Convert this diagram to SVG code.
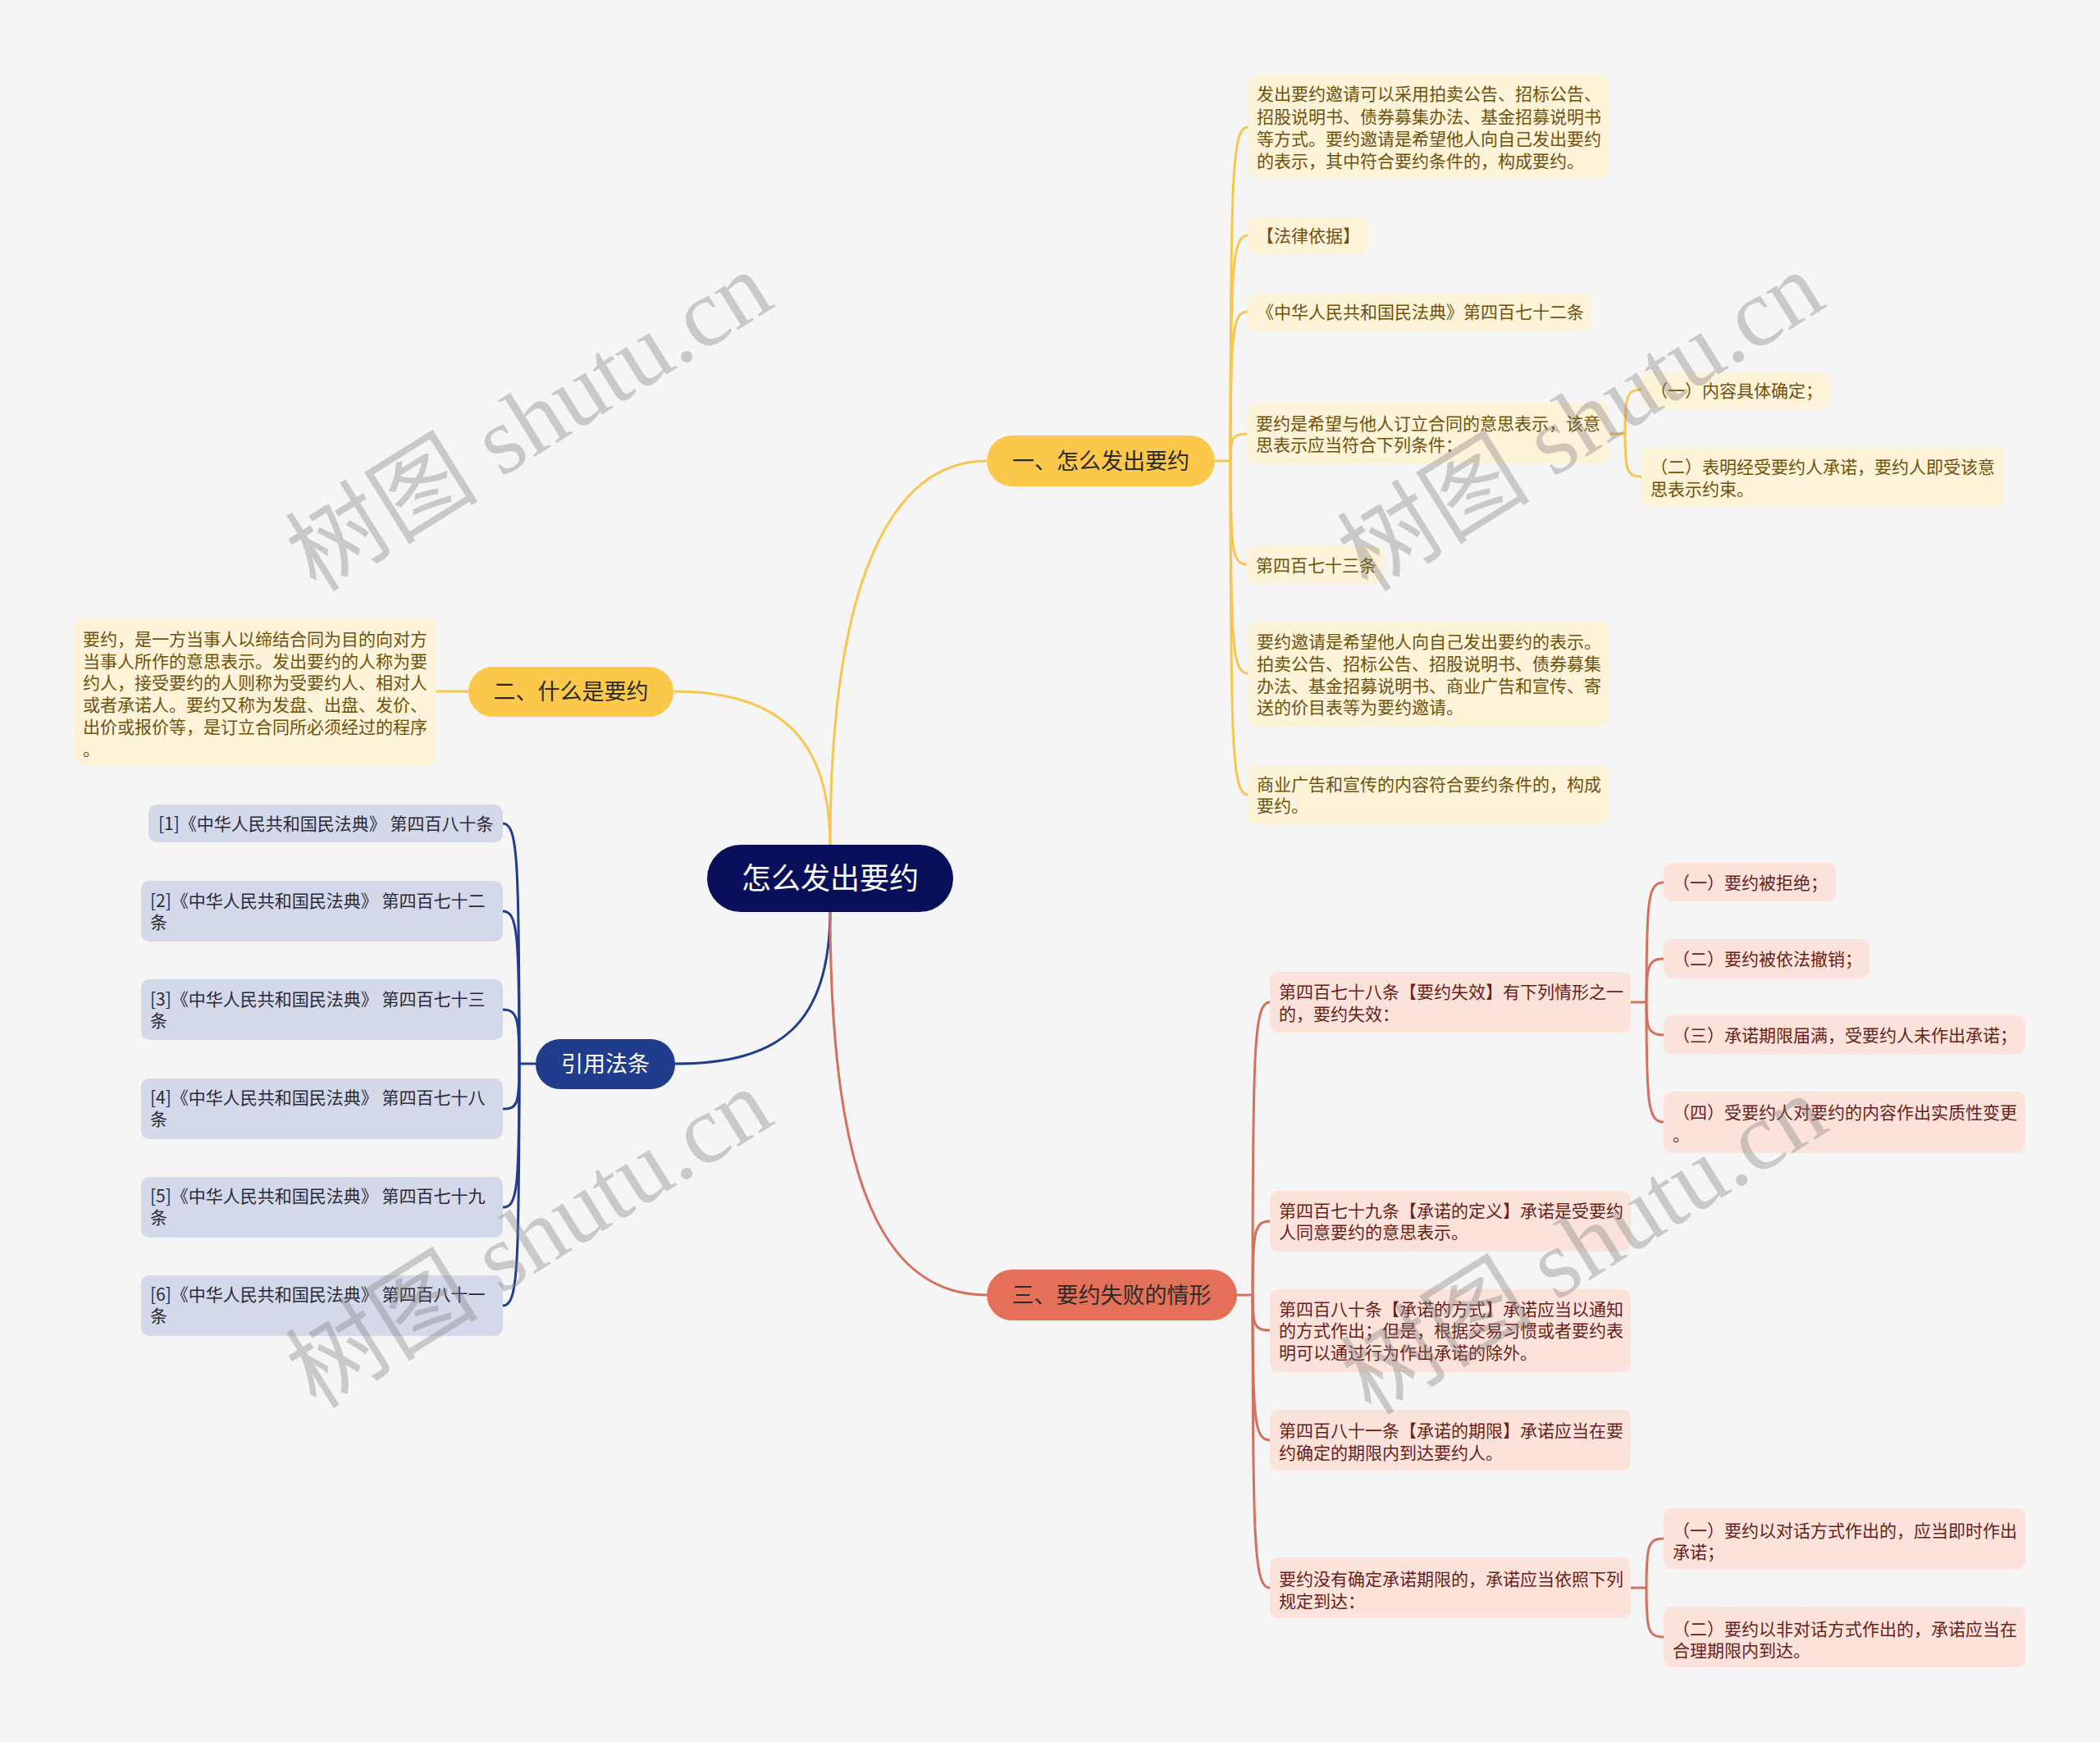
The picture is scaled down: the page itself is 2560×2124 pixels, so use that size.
<svg xmlns="http://www.w3.org/2000/svg" width="2560" height="2124" viewBox="0 0 2560 2124">
<style>
text{font-family:"Noto Sans CJK SC","Noto Sans",sans-serif;}
.ly{fill:#fdf3d9;}
.lr{fill:#fbe3dc;}
.lb{fill:#d3d9e8;}
.ty{fill:#6e520c;font-size:21px;}
.tr{fill:#6a1e18;font-size:21px;}
.tb{fill:#2a2a3a;font-size:21px;}
.cy{fill:none;stroke:#f7c64f;stroke-width:3;}
.cb{fill:none;stroke:#1f3d8c;stroke-width:3;}
.cr{fill:none;stroke:#d4705e;stroke-width:3;}
.br{font-size:27px;text-anchor:middle;}
.wm{font-family:"Liberation Serif","Noto Sans CJK SC",serif;font-size:118px;fill:#808080;fill-opacity:0.38;text-anchor:middle;}
</style>
<rect x="0" y="0" width="2560" height="2124" fill="#f5f5f5"/>

<g id="connectors">
  <path class="cy" d="M1012,1032 C1012,700 1090,562 1203,562"/>
  <path class="cy" d="M1012,1032 C1012,900 950,843 821,843"/>
  <path class="cb" d="M1012,1110 C1012,1250 950,1297 823,1297"/>
  <path class="cr" d="M1012,1110 C1012,1450 1080,1579 1203,1579"/>
  <path class="cy" d="M1481,562 H1500"/>
  <path class="cy" d="M1500,562 C1500,216 1502,155 1521,155"/>
  <path class="cy" d="M1500,562 C1500,328 1502,287 1521,287"/>
  <path class="cy" d="M1500,562 C1500,407 1502,380 1521,380"/>
  <path class="cy" d="M1500,562 C1500,534 1502,529 1520,529"/>
  <path class="cy" d="M1500,562 C1500,669 1502,688 1520,688"/>
  <path class="cy" d="M1500,562 C1500,782 1502,821 1521,821"/>
  <path class="cy" d="M1500,562 C1500,907 1502,969 1521,969"/>
  <path class="cy" d="M1962,529 H1981"/>
  <path class="cy" d="M1981,529 C1981,483 1983,475 2001,475"/>
  <path class="cy" d="M1981,529 C1981,573 1983,581 2001,581"/>
  <path class="cy" d="M532,843 H571"/>
  <path class="cb" d="M653,1297 H633"/>
  <path class="cb" d="M633,1297 C633,1048 631,1004 613,1004"/>
  <path class="cb" d="M633,1297 C633,1139 631,1111 613,1111"/>
  <path class="cb" d="M633,1297 C633,1243 631,1231 613,1231"/>
  <path class="cb" d="M633,1297 C633,1346 631,1352 613,1352"/>
  <path class="cb" d="M633,1297 C633,1448 631,1472 613,1472"/>
  <path class="cb" d="M633,1297 C633,1551 631,1592 613,1592"/>
  <path class="cr" d="M1508,1579 H1527"/>
  <path class="cr" d="M1527,1579 C1527,1273 1529,1222 1548,1222"/>
  <path class="cr" d="M1527,1579 C1527,1502 1529,1489 1548,1489"/>
  <path class="cr" d="M1527,1579 C1527,1616 1529,1622 1548,1622"/>
  <path class="cr" d="M1527,1579 C1527,1730 1529,1756 1548,1756"/>
  <path class="cr" d="M1527,1579 C1527,1882 1529,1936 1548,1936"/>
  <path class="cr" d="M1988,1222 H2007"/>
  <path class="cr" d="M2007,1222 C2007,1096 2009,1076 2028,1076"/>
  <path class="cr" d="M2007,1222 C2007,1179 2009,1169 2028,1169"/>
  <path class="cr" d="M2007,1222 C2007,1253 2009,1262 2028,1262"/>
  <path class="cr" d="M2007,1222 C2007,1346 2009,1368 2028,1368"/>
  <path class="cr" d="M1988,1936 H2007"/>
  <path class="cr" d="M2007,1936 C2007,1885 2009,1876 2028,1876"/>
  <path class="cr" d="M2007,1936 C2007,1987 2009,1996 2028,1996"/>
</g>

<g id="root">
  <rect x="862" y="1030" width="300" height="82" rx="41" fill="#0a0f5c"/>
  <text x="1012" y="1084" font-size="36" fill="#ffffff" text-anchor="middle">怎么发出要约</text>
</g>

<g id="branch-1">
  <rect x="1203" y="531" width="278" height="62" rx="31" fill="#fcc84c"/>
  <text class="br" x="1342" y="572" fill="#2b2b2b">一、怎么发出要约</text>
</g>
<g id="branch-2">
  <rect x="571" y="813" width="250" height="61" rx="30" fill="#fcc84c"/>
  <text class="br" x="696" y="853" fill="#2b2b2b">二、什么是要约</text>
</g>
<g id="branch-cite">
  <rect x="653" y="1267" width="170" height="61" rx="30" fill="#1f3d8c"/>
  <text class="br" x="738" y="1307" fill="#ffffff">引用法条</text>
</g>
<g id="branch-3">
  <rect x="1203" y="1548" width="305" height="62" rx="31" fill="#e5705a"/>
  <text class="br" x="1355" y="1589" fill="#2b2b2b">三、要约失败的情形</text>
</g>

<g id="leaf-1-1">
  <rect class="ly" x="1521" y="92" width="441" height="125" rx="10"/>
  <text class="ty"><tspan x="1532" y="122">发出要约邀请可以采用拍卖公告、招标公告、</tspan><tspan x="1532" y="150">招股说明书、债券募集办法、基金招募说明书</tspan><tspan x="1532" y="177">等方式。要约邀请是希望他人向自己发出要约</tspan><tspan x="1532" y="204">的表示，其中符合要约条件的，构成要约。</tspan></text>
</g>
<g id="leaf-1-2">
  <rect class="ly" x="1521" y="265" width="146" height="45" rx="10"/>
  <text class="ty" x="1532" y="295">【法律依据】</text>
</g>
<g id="leaf-1-3">
  <rect class="ly" x="1521" y="358" width="419" height="45" rx="10"/>
  <text class="ty" x="1532" y="388">《中华人民共和国民法典》第四百七十二条</text>
</g>
<g id="leaf-1-4">
  <rect class="ly" x="1520" y="492" width="442" height="73" rx="10"/>
  <text class="ty"><tspan x="1531" y="524">要约是希望与他人订立合同的意思表示，该意</tspan><tspan x="1531" y="550">思表示应当符合下列条件：</tspan></text>
</g>
<g id="leaf-1-4-1">
  <rect class="ly" x="2001" y="453" width="230" height="45" rx="10"/>
  <text class="ty" x="2012" y="484">（一）内容具体确定；</text>
</g>
<g id="leaf-1-4-2">
  <rect class="ly" x="2001" y="545" width="442" height="73" rx="10"/>
  <text class="ty"><tspan x="2012" y="577">（二）表明经受要约人承诺，要约人即受该意</tspan><tspan x="2012" y="604">思表示约束。</tspan></text>
</g>
<g id="leaf-1-5">
  <rect class="ly" x="1520" y="665" width="168" height="47" rx="10"/>
  <text class="ty" x="1531" y="697">第四百七十三条</text>
</g>
<g id="leaf-1-6">
  <rect class="ly" x="1521" y="758" width="441" height="127" rx="10"/>
  <text class="ty"><tspan x="1532" y="790">要约邀请是希望他人向自己发出要约的表示。</tspan><tspan x="1532" y="817">拍卖公告、招标公告、招股说明书、债券募集</tspan><tspan x="1532" y="844">办法、基金招募说明书、商业广告和宣传、寄</tspan><tspan x="1532" y="870">送的价目表等为要约邀请。</tspan></text>
</g>
<g id="leaf-1-7">
  <rect class="ly" x="1521" y="933" width="441" height="72" rx="10"/>
  <text class="ty"><tspan x="1532" y="964">商业广告和宣传的内容符合要约条件的，构成</tspan><tspan x="1532" y="990">要约。</tspan></text>
</g>

<g id="leaf-2-1">
  <rect class="ly" x="91" y="753" width="441" height="181" rx="10"/>
  <text class="ty"><tspan x="101" y="787">要约，是一方当事人以缔结合同为目的向对方</tspan><tspan x="101" y="814">当事人所作的意思表示。发出要约的人称为要</tspan><tspan x="101" y="840">约人，接受要约的人则称为受要约人、相对人</tspan><tspan x="101" y="867">或者承诺人。要约又称为发盘、出盘、发价、</tspan><tspan x="101" y="894">出价或报价等，是订立合同所必须经过的程序</tspan><tspan x="101" y="921">。</tspan></text>
</g>

<g id="cite-1">
  <rect class="lb" x="181" y="981" width="432" height="46" rx="10"/>
  <text class="tb" x="193" y="1012">[1]《中华人民共和国民法典》 第四百八十条</text>
</g>
<g id="cite-2">
  <rect class="lb" x="172" y="1074" width="441" height="74" rx="10"/>
  <text class="tb"><tspan x="183" y="1106">[2]《中华人民共和国民法典》 第四百七十二</tspan><tspan x="183" y="1132">条</tspan></text>
</g>
<g id="cite-3">
  <rect class="lb" x="172" y="1194" width="441" height="74" rx="10"/>
  <text class="tb"><tspan x="183" y="1226">[3]《中华人民共和国民法典》 第四百七十三</tspan><tspan x="183" y="1252">条</tspan></text>
</g>
<g id="cite-4">
  <rect class="lb" x="172" y="1315" width="441" height="74" rx="10"/>
  <text class="tb"><tspan x="183" y="1346">[4]《中华人民共和国民法典》 第四百七十八</tspan><tspan x="183" y="1372">条</tspan></text>
</g>
<g id="cite-5">
  <rect class="lb" x="172" y="1435" width="441" height="74" rx="10"/>
  <text class="tb"><tspan x="183" y="1466">[5]《中华人民共和国民法典》 第四百七十九</tspan><tspan x="183" y="1492">条</tspan></text>
</g>
<g id="cite-6">
  <rect class="lb" x="172" y="1555" width="441" height="74" rx="10"/>
  <text class="tb"><tspan x="183" y="1586">[6]《中华人民共和国民法典》 第四百八十一</tspan><tspan x="183" y="1612">条</tspan></text>
</g>

<g id="leaf-3-1">
  <rect class="lr" x="1548" y="1185" width="440" height="74" rx="10"/>
  <text class="tr"><tspan x="1559" y="1217">第四百七十八条【要约失效】有下列情形之一</tspan><tspan x="1559" y="1244">的，要约失效：</tspan></text>
</g>
<g id="leaf-3-1-1">
  <rect class="lr" x="2028" y="1052" width="210" height="47" rx="10"/>
  <text class="tr" x="2039" y="1084">（一）要约被拒绝；</text>
</g>
<g id="leaf-3-1-2">
  <rect class="lr" x="2028" y="1145" width="251" height="48" rx="10"/>
  <text class="tr" x="2039" y="1177">（二）要约被依法撤销；</text>
</g>
<g id="leaf-3-1-3">
  <rect class="lr" x="2028" y="1238" width="441" height="48" rx="10"/>
  <text class="tr" x="2039" y="1270">（三）承诺期限届满，受要约人未作出承诺；</text>
</g>
<g id="leaf-3-1-4">
  <rect class="lr" x="2028" y="1331" width="441" height="75" rx="10"/>
  <text class="tr"><tspan x="2039" y="1364">（四）受要约人对要约的内容作出实质性变更</tspan><tspan x="2039" y="1391">。</tspan></text>
</g>
<g id="leaf-3-2">
  <rect class="lr" x="1548" y="1452" width="440" height="74" rx="10"/>
  <text class="tr"><tspan x="1559" y="1484">第四百七十九条【承诺的定义】承诺是受要约</tspan><tspan x="1559" y="1510">人同意要约的意思表示。</tspan></text>
</g>
<g id="leaf-3-3">
  <rect class="lr" x="1548" y="1572" width="440" height="101" rx="10"/>
  <text class="tr"><tspan x="1559" y="1604">第四百八十条【承诺的方式】承诺应当以通知</tspan><tspan x="1559" y="1630">的方式作出；但是，根据交易习惯或者要约表</tspan><tspan x="1559" y="1657">明可以通过行为作出承诺的除外。</tspan></text>
</g>
<g id="leaf-3-4">
  <rect class="lr" x="1548" y="1719" width="440" height="74" rx="10"/>
  <text class="tr"><tspan x="1559" y="1752">第四百八十一条【承诺的期限】承诺应当在要</tspan><tspan x="1559" y="1779">约确定的期限内到达要约人。</tspan></text>
</g>
<g id="leaf-3-5">
  <rect class="lr" x="1548" y="1899" width="440" height="74" rx="10"/>
  <text class="tr"><tspan x="1559" y="1933">要约没有确定承诺期限的，承诺应当依照下列</tspan><tspan x="1559" y="1960">规定到达：</tspan></text>
</g>
<g id="leaf-3-5-1">
  <rect class="lr" x="2028" y="1839" width="441" height="74" rx="10"/>
  <text class="tr"><tspan x="2039" y="1874">（一）要约以对话方式作出的，应当即时作出</tspan><tspan x="2039" y="1900">承诺；</tspan></text>
</g>
<g id="leaf-3-5-2">
  <rect class="lr" x="2028" y="1959" width="441" height="74" rx="10"/>
  <text class="tr"><tspan x="2039" y="1994">（二）要约以非对话方式作出的，承诺应当在</tspan><tspan x="2039" y="2020">合理期限内到达。</tspan></text>
</g>

<g id="watermarks">
  <text class="wm" transform="translate(645,514) rotate(-32)" y="40">树图 shutu.cn</text>
  <text class="wm" transform="translate(1927,514) rotate(-32)" y="40">树图 shutu.cn</text>
  <text class="wm" transform="translate(645,1510) rotate(-32)" y="40">树图 shutu.cn</text>
  <text class="wm" transform="translate(1931,1518) rotate(-32)" y="40">树图 shutu.cn</text>
</g>
</svg>
